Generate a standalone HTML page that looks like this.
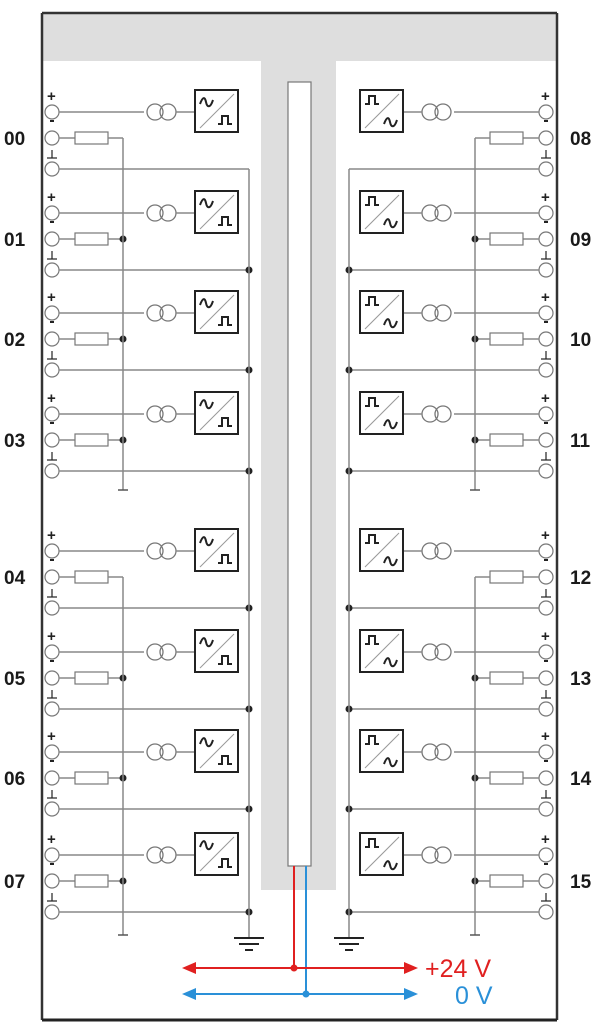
<!DOCTYPE html>
<html><head><meta charset="utf-8"><style>
html,body{margin:0;padding:0;background:#fff;width:601px;height:1022px;overflow:hidden}
svg{display:block}
.lbl{font-family:"Liberation Sans",sans-serif;font-weight:bold;font-size:19px;fill:#1a1a1a}
</style></head><body>
<svg id="s" width="601" height="1022" viewBox="0 0 601 1022" xmlns="http://www.w3.org/2000/svg">
<rect x="42" y="13" width="515" height="48" fill="#dedede"/>
<rect x="261" y="13" width="75" height="877" fill="#dedede"/>
<rect x="288" y="82" width="23" height="784" fill="#fff" stroke="#777" stroke-width="1.2"/>
<g id="g"></g>
<line x1="42" y1="13" x2="557" y2="13" stroke="#333" stroke-width="2.5"/>
<line x1="42" y1="13" x2="42" y2="1020" stroke="#333" stroke-width="2.5"/>
<line x1="557" y1="13" x2="557" y2="1020" stroke="#333" stroke-width="2.5"/>
<line x1="42" y1="1020" x2="557" y2="1020" stroke="#222" stroke-width="3"/>
<g class="lbl">
<text x="4" y="145">00</text><text x="4" y="246">01</text><text x="4" y="346">02</text><text x="4" y="447">03</text>
<text x="4" y="584">04</text><text x="4" y="685">05</text><text x="4" y="785">06</text><text x="4" y="888">07</text>
<text x="570" y="145">08</text><text x="570" y="246">09</text><text x="570" y="346">10</text><text x="570" y="447">11</text>
<text x="570" y="584">12</text><text x="570" y="685">13</text><text x="570" y="785">14</text><text x="570" y="888">15</text>
</g>
<!-- power -->
<line x1="294" y1="866" x2="294" y2="968" stroke="#e02020" stroke-width="2"/>
<line x1="306" y1="866" x2="306" y2="994" stroke="#2a90d8" stroke-width="2"/>
<line x1="190" y1="968" x2="408" y2="968" stroke="#e02020" stroke-width="2"/>
<polygon points="182,968 196,962 196,974" fill="#e02020"/><polygon points="418,968 404,962 404,974" fill="#e02020"/>
<circle cx="294" cy="968" r="3.5" fill="#e02020"/>
<line x1="190" y1="994" x2="408" y2="994" stroke="#2a90d8" stroke-width="2"/>
<polygon points="182,994 196,988 196,1000" fill="#2a90d8"/><polygon points="418,994 404,988 404,1000" fill="#2a90d8"/>
<circle cx="306" cy="994" r="3.5" fill="#2a90d8"/>
<text x="425" y="977" font-family="Liberation Sans,sans-serif" font-size="25" fill="#e02020">+24 V</text>
<text x="455" y="1004" font-family="Liberation Sans,sans-serif" font-size="25" fill="#2a90d8">0 V</text>
</svg>
<script>
var g=document.getElementById('g'),h='';
var G='#888',D='#222';
function L(a,b,c,d,col,w){h+='<line x1="'+a+'" y1="'+b+'" x2="'+c+'" y2="'+d+'" stroke="'+(col||G)+'" stroke-width="'+(w||1.5)+'"/>';}
function dot(x,y){h+='<circle cx="'+x+'" cy="'+y+'" r="3.5" fill="'+D+'"/>';}
var bases=[112,213,313,414,551,652,752,855];
[0,1].forEach(function(side){
 function X(x){return side?598-x:x;}
 bases.forEach(function(b,i){
  var m=b+26,gr=b+57;
  // terminals
  [b,m,gr].forEach(function(y){h+='<circle cx="'+X(52)+'" cy="'+y+'" r="7" fill="#fff" stroke="#777" stroke-width="1.2"/>';});
  h+='<text x="'+(X(52)-5)+'" y="'+(b-11)+'" font-family="Liberation Sans,sans-serif" font-weight="bold" font-size="15" fill="#222">+</text>';
  L(X(50),m-17,X(54),m-17,D,2);
  L(X(52),gr-19,X(52),gr-11,D,1.2);L(X(47),gr-11,X(57),gr-11,D,1.2);
  // plus line
  L(X(59),b,X(144),b);
  h+='<circle cx="'+X(155)+'" cy="'+b+'" r="8" fill="none" stroke="#777" stroke-width="1.3"/><circle cx="'+X(168)+'" cy="'+b+'" r="8" fill="none" stroke="#777" stroke-width="1.3"/>';
  L(X(176),b,X(195),b);
  // box
  var bx=side?X(238):195,by=b-22;
  h+='<rect x="'+bx+'" y="'+by+'" width="43" height="42" fill="#fff" stroke="'+D+'" stroke-width="2"/>';
  h+='<line x1="'+(bx+5)+'" y1="'+(by+38)+'" x2="'+(bx+39)+'" y2="'+(by+4)+'" stroke="#999" stroke-width="1"/>';
  var sine=function(x,y){return '<path d="M'+x+' '+(y+4)+' C'+(x+3)+' '+(y-4)+' '+(x+5)+' '+(y-3)+' '+(x+6)+' '+(y+2)+' S'+(x+10)+' '+(y+9)+' '+(x+13)+' '+y+'" fill="none" stroke="'+D+'" stroke-width="2"/>';};
  var sq=function(x,y){return '<path d="M'+x+' '+(y+8)+' H'+(x+4)+' V'+y+' H'+(x+10)+' V'+(y+8)+' H'+(x+14)+'" fill="none" stroke="'+D+'" stroke-width="2"/>';};
  if(!side){h+=sine(bx+5,by+10)+sq(bx+23,by+26);}else{h+=sq(bx+5,by+6)+sine(bx+24,by+30);}
  // resistor
  L(X(59),m,X(75),m);
  h+='<rect x="'+(side?X(108):75)+'" y="'+(m-6)+'" width="33" height="12" fill="#fff" stroke="#777" stroke-width="1.2"/>';
  L(X(108),m,X(123),m);
  if(i%4) dot(X(123),m);
  // ground line
  L(X(59),gr,X(249),gr);
  if(i>0) dot(X(249),gr);
 });
 L(X(123),138,X(123),490);L(X(118),490,X(128),490,'#555');
 L(X(123),577,X(123),935);L(X(118),935,X(128),935,'#555');
 L(X(249),169,X(249),938);
 L(X(234),938,X(264),938,D,2);L(X(239),944,X(259),944,D,2);L(X(245),950,X(253),950,D,2);
});
g.innerHTML=h;
</script>
</body></html>
